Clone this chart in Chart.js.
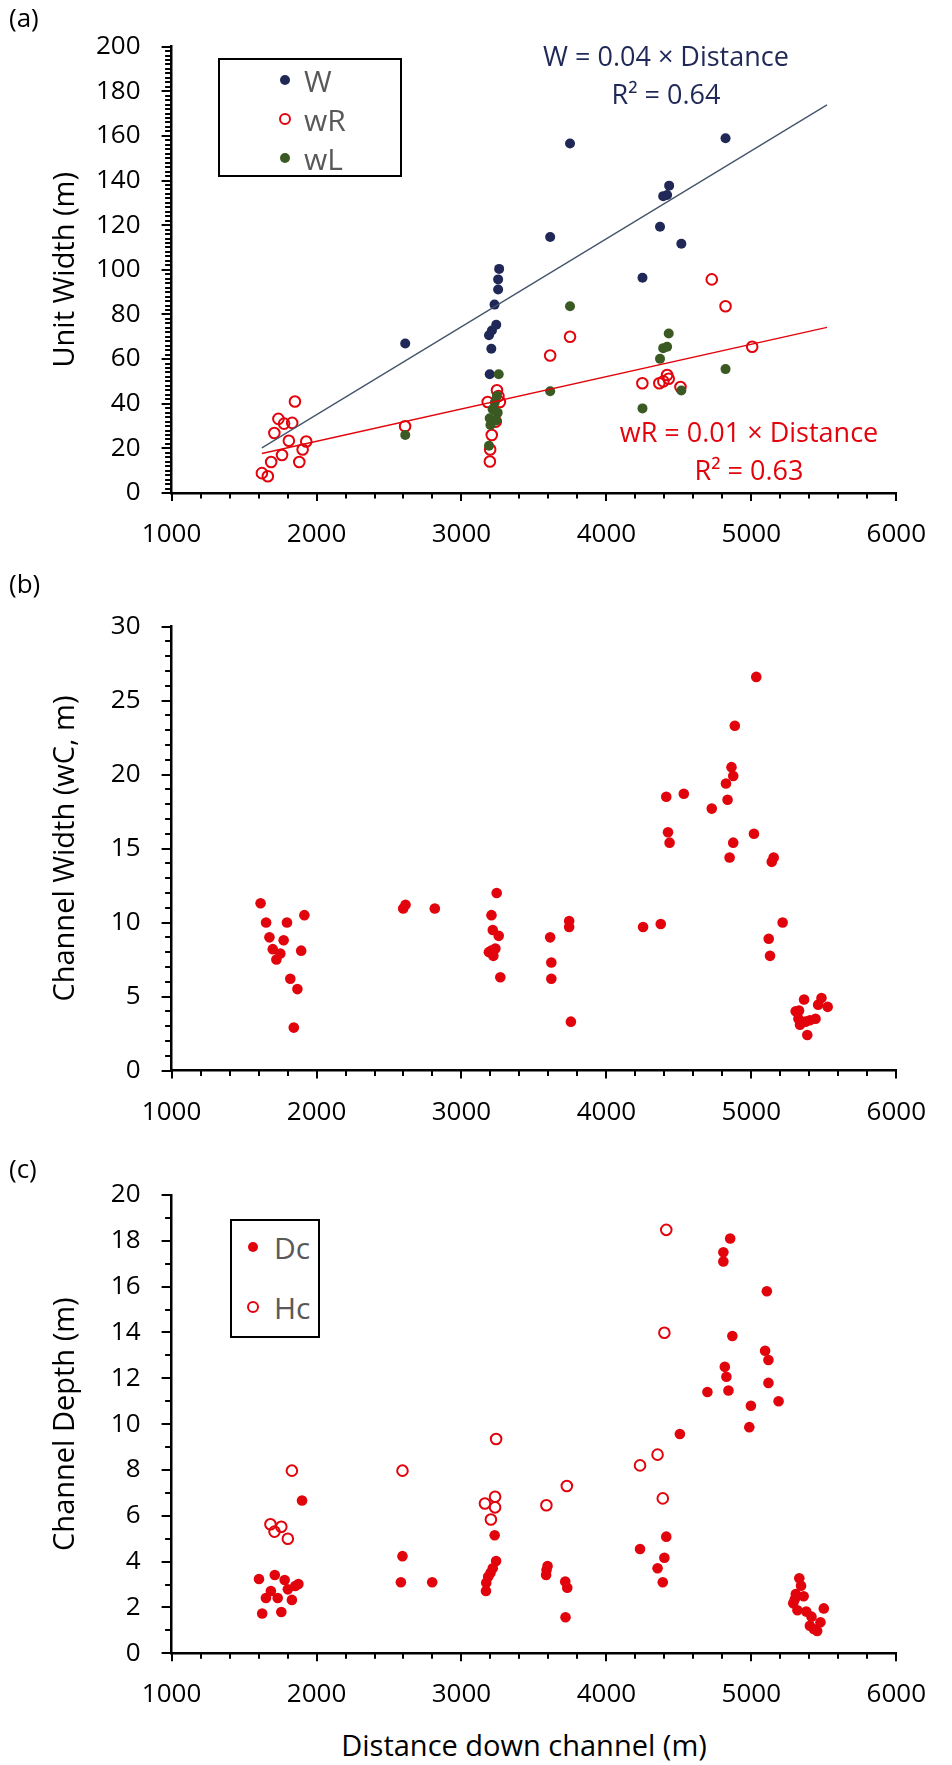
<!DOCTYPE html>
<html>
<head>
<meta charset="utf-8">
<script src="https://cdn.jsdelivr.net/npm/chart.js@4.4.0/dist/chart.umd.min.js"></script>
<style>
  body { margin: 0; background: #fff; }
  #page { position: relative; width: 952px; height: 1765px; font-family: 'Open Sans', sans-serif; overflow: hidden; }
  #page canvas { position: absolute; left: 0; }
  .tag { position: absolute; font-size: 26px; line-height: 30px; color: #000; }
  .note { position: absolute; width: 420px; text-align: center; font-size: 27px; line-height: 38px; white-space: nowrap; }
  .legend { position: absolute; border: 2px solid #000; box-sizing: border-box; background: #fff; }
  .row { position: absolute; height: 40px; display: flex; align-items: center; font-size: 30px; color: #595959; }
  .dot { position: absolute; border-radius: 50%; box-sizing: border-box; }
  .xtitle { position: absolute; width: 500px; text-align: center; font-size: 29px; line-height: 36px; color: #000; }
</style>
</head>
<body>
<div id="page">
  <canvas id="chartA" width="952" height="580" style="top:0;width:952px;height:580px"></canvas>
  <canvas id="chartB" width="952" height="560" style="top:580px;width:952px;height:560px"></canvas>
  <canvas id="chartC" width="952" height="580" style="top:1140px;width:952px;height:580px"></canvas>

  <div class="tag" style="left:9px;top:2px">(a)</div>
  <div class="tag" style="left:9px;top:568px">(b)</div>
  <div class="tag" style="left:9px;top:1153px">(c)</div>

  <div class="note" style="left:456px;top:37px;color:#1F2856">W = 0.04 × Distance<br>R² = 0.64</div>
  <div class="note" style="left:539px;top:413px;color:#E2040C">wR = 0.01 × Distance<br>R² = 0.63</div>

  <div class="legend" style="left:218px;top:58px;width:184px;height:119px">
    <div class="dot" style="left:60px;top:15px;width:10px;height:10px;background:#1F2856"></div>
    <div class="row" style="left:84px;top:0px">W</div>
    <div class="dot" style="left:59px;top:53px;width:12px;height:12px;border:2px solid #E2040C"></div>
    <div class="row" style="left:84px;top:39px">wR</div>
    <div class="dot" style="left:60px;top:93px;width:10px;height:10px;background:#3B5A23"></div>
    <div class="row" style="left:84px;top:78px">wL</div>
  </div>

  <div class="legend" style="left:230px;top:1219px;width:90px;height:119px">
    <div class="dot" style="left:16px;top:21px;width:10px;height:10px;background:#E2040C"></div>
    <div class="row" style="left:42px;top:6px">Dc</div>
    <div class="dot" style="left:15px;top:80px;width:12px;height:12px;border:2px solid #E2040C"></div>
    <div class="row" style="left:42px;top:66px">Hc</div>
  </div>

  <div class="xtitle" style="left:274px;top:1727px">Distance down channel (m)</div>
</div>

<script>
// axis ticks
const distTicks = [1000, 2000, 3000, 4000, 5000, 6000];
const unitWidthTicks = [0, 20, 40, 60, 80, 100, 120, 140, 160, 180, 200];
const chanWidthTicks = [0, 5, 10, 15, 20, 25, 30];
const chanDepthTicks = [0, 2, 4, 6, 8, 10, 12, 14, 16, 18, 20];

// (a) unit widths
const wDist = [2612, 3190, 3195, 3206, 3210, 3228, 3240, 3253, 3253, 3260, 3612, 3749, 4249, 4370, 4392, 4419, 4433, 4517, 4822];
const wVal  = [67.0, 70.7, 53.2, 64.6, 72.8, 84.4, 75.4, 91.2, 95.7, 100.4, 114.7, 156.6, 96.4, 119.3, 133.0, 133.5, 137.7, 111.7, 158.9];

const wrDist = [1623, 1664, 1687, 1709, 1737, 1762, 1776, 1809, 1832, 1851, 1881, 1904, 1929, 2611,
                3181, 3196, 3198, 3209, 3237, 3245, 3255, 3265, 3612, 3749,
                4248, 4365, 4393, 4419, 4430, 4511, 4727, 4822, 5006];
const wrVal  = [8.9, 7.5, 13.9, 26.9, 33.2, 17.0, 31.1, 23.4, 31.4, 41.0, 13.9, 19.5, 23.1, 29.9,
                40.8, 14.1, 19.5, 26.0, 32.0, 46.0, 43.4, 40.8, 61.6, 70.0,
                49.2, 49.2, 50.0, 52.9, 51.2, 47.5, 95.7, 83.7, 65.5];

const wlDist = [2612, 3257, 3245, 3230, 3215, 3250, 3195, 3240, 3200, 3190, 3612, 3749, 4249, 4370, 4392, 4419, 4430, 4517, 4822];
const wlVal  = [26.0, 53.2, 43.5, 40.5, 37.5, 36.0, 33.5, 32.5, 30.5, 21.2, 45.6, 83.7, 37.9, 60.1, 64.9, 65.5, 71.5, 45.9, 55.5];

// trendline ends
const trendDist = [1623, 5522];
const trendW    = [20.2, 173.9];
const trendWR   = [17.7, 74.2];

// (b) channel width
const wcDist = [1614, 1652, 1675, 1698, 1723, 1750, 1773, 1796, 1819, 1843, 1868, 1894, 1916,
                2598, 2614, 2816, 3189, 3205, 3207, 3216, 3220, 3234, 3243, 3257, 3268,
                3612, 3620, 3620, 3743, 3743, 3755, 4253, 4375,
                4413, 4425, 4436, 4534, 4727, 4825, 4836, 4850, 4863, 4875, 4875, 4886, 5018, 5034,
                5120, 5129, 5141, 5154, 5216,
                5306, 5325, 5329, 5336, 5364, 5374, 5386, 5404, 5443, 5461, 5484, 5527];
const wcVal  = [11.3, 10.0, 9.0, 8.2, 7.5, 7.9, 8.8, 10.0, 6.2, 2.9, 5.5, 8.1, 10.5,
                10.95, 11.2, 10.95, 8.0, 8.1, 10.5, 9.5, 7.75, 8.25, 12.0, 9.1, 6.3,
                9.0, 7.3, 6.2, 10.1, 9.7, 3.3, 9.7, 9.9,
                18.5, 16.1, 15.4, 18.7, 17.7, 19.4, 18.3, 14.4, 20.5, 19.9, 15.4, 23.3, 16.0, 26.6,
                8.9, 7.75, 14.1, 14.4, 10.0,
                4.0, 3.5, 4.05, 3.1, 4.8, 3.3, 2.4, 3.4, 3.5, 4.45, 4.9, 4.3];

// (c) channel depth
const dcDist = [1603, 1625, 1651, 1685, 1712, 1732, 1757, 1780, 1802, 1830, 1853, 1875, 1900,
                2582, 2593, 2798, 3169, 3171, 3184, 3200, 3216, 3239, 3229,
                3584, 3587, 3594, 3716, 3730, 3718,
                4232, 4353, 4389, 4400, 4413, 4507, 4697, 4807, 4807, 4817, 4828, 4842, 4854, 4869,
                4986, 4997, 5095, 5107, 5118, 5118, 5188,
                5289, 5300, 5307, 5318, 5331, 5343, 5361, 5379, 5404, 5415, 5431, 5454, 5477, 5500];
const dcVal  = [3.24, 1.74, 2.41, 2.72, 3.42, 2.41, 1.8, 3.2, 2.79, 2.33, 2.94, 3.02, 6.67,
                3.1, 4.24, 3.1, 2.72, 3.08, 3.34, 3.5, 3.71, 4.03, 5.15,
                3.42, 3.63, 3.81, 3.13, 2.86, 1.57,
                4.55, 3.71, 3.1, 4.17, 5.09, 9.57, 11.4, 17.1, 17.5, 12.5, 12.07, 11.47, 18.1, 13.85,
                9.87, 10.8, 13.2, 15.8, 12.8, 11.8, 11.0,
                2.18, 2.36, 2.59, 1.88, 3.27, 2.95, 2.49, 1.82, 1.2, 1.6, 1.06, 0.97, 1.35, 1.96];

const hcDist = [1682, 1710, 1757, 1802, 1830, 2593, 3162, 3203, 3232, 3232, 3239, 3586, 3727, 4232, 4353, 4389, 4400, 4413];
const hcVal  = [5.63, 5.31, 5.52, 5.0, 7.97, 7.97, 6.54, 5.84, 6.37, 6.83, 9.35, 6.46, 7.3, 8.2, 8.67, 6.76, 13.99, 18.48];

const NAVY = '#1F2856';
const RED = '#E2040C';
const GREEN = '#3B5A23';
const SLATE = '#44546A';
const FONT = "'Open Sans', sans-serif";

const pts = (xs, ys) => xs.map((x, i) => ({ x, y: ys[i] }));

// Excel style outside ticks, long at majors, short at minors
const tickMarks = {
  id: 'tickMarks',
  afterDraw(chart, args, opts) {
    const { ctx, chartArea, scales: { x, y } } = chart;
    ctx.save();
    ctx.strokeStyle = '#000';
    ctx.lineWidth = 2;
    ctx.beginPath();
    const xn = Math.round((x.max - x.min) / opts.xMinor);
    for (let i = 0; i <= xn; i++) {
      const px = Math.round(x.getPixelForValue(x.min + i * opts.xMinor));
      const len = i % opts.xEvery === 0 ? 8 : 5.5;
      ctx.moveTo(px, chartArea.bottom);
      ctx.lineTo(px, chartArea.bottom + len);
    }
    const yn = Math.round((y.max - y.min) / opts.yMinor);
    for (let i = 0; i <= yn; i++) {
      const py = Math.round(y.getPixelForValue(y.min + i * opts.yMinor));
      const len = i % opts.yEvery === 0 ? 10 : 6.5;
      ctx.moveTo(chartArea.left, py);
      ctx.lineTo(chartArea.left - len, py);
    }
    ctx.stroke();
    ctx.restore();
  }
};

function makeChart(id, datasets, cfg) {
  return new Chart(document.getElementById(id), {
    type: 'scatter',
    data: { datasets },
    plugins: [tickMarks],
    options: {
      responsive: false,
      animation: false,
      devicePixelRatio: 1,
      events: [],
      layout: { padding: { left: 0, right: 47, top: cfg.top, bottom: cfg.bottom } },
      plugins: {
        legend: { display: false },
        tooltip: { enabled: false },
        tickMarks: cfg.marks
      },
      scales: {
        x: {
          type: 'linear',
          min: 1000,
          max: 6000,
          afterBuildTicks: s => { s.ticks = distTicks.map(v => ({ value: v })); },
          afterFit: s => { s.height = 60; },
          grid: { display: false, drawTicks: false },
          border: { display: true, color: '#000', width: 2.5 },
          ticks: { padding: 26, color: '#000', font: { family: FONT, size: 26 }, callback: v => String(v) }
        },
        y: {
          type: 'linear',
          min: cfg.yTicks[0],
          max: cfg.yTicks[cfg.yTicks.length - 1],
          afterBuildTicks: s => { s.ticks = cfg.yTicks.map(v => ({ value: v })); },
          afterFit: s => { s.width = 171.6; },
          grid: { display: false, drawTicks: false },
          border: { display: true, color: '#000', width: 2.5 },
          ticks: { padding: 31, color: '#000', font: { family: FONT, size: 26 }, callback: v => String(v) },
          title: {
            display: true,
            text: cfg.yTitle,
            color: '#000',
            font: { family: FONT, size: 29 },
            padding: { top: 48, bottom: 0 }
          }
        }
      }
    }
  });
}

makeChart('chartA', [
  { label: 'W', data: pts(wDist, wVal), pointRadius: 5, pointBorderWidth: 0,
    pointBackgroundColor: NAVY, pointBorderColor: NAVY, order: 3 },
  { label: 'wR', data: pts(wrDist, wrVal), pointRadius: 5.3, pointBorderWidth: 2,
    pointBackgroundColor: 'rgba(0,0,0,0)', pointBorderColor: RED, order: 2 },
  { label: 'wL', data: pts(wlDist, wlVal), pointRadius: 5, pointBorderWidth: 0,
    pointBackgroundColor: GREEN, pointBorderColor: GREEN, order: 1 },
  { label: 'W trend', data: pts(trendDist, trendW), showLine: true, pointRadius: 0,
    borderColor: SLATE, borderWidth: 1.3, order: 0 },
  { label: 'wR trend', data: pts(trendDist, trendWR), showLine: true, pointRadius: 0,
    borderColor: RED, borderWidth: 1.3, order: 0 }
], {
  top: 34, bottom: 27, yTicks: unitWidthTicks, yTitle: 'Unit Width (m)',
  marks: { xMinor: 200, xEvery: 5, yMinor: 2, yEvery: 10 }
});

makeChart('chartB', [
  { label: 'wC', data: pts(wcDist, wcVal), pointRadius: 5.3, pointBorderWidth: 0,
    pointBackgroundColor: RED, pointBorderColor: RED }
], {
  top: 30.6, bottom: 9.5, yTicks: chanWidthTicks, yTitle: 'Channel Width (wC, m)',
  marks: { xMinor: 200, xEvery: 5, yMinor: 1, yEvery: 5 }
});

makeChart('chartC', [
  { label: 'Dc', data: pts(dcDist, dcVal), pointRadius: 5.3, pointBorderWidth: 0,
    pointBackgroundColor: RED, pointBorderColor: RED, order: 2 },
  { label: 'Hc', data: pts(hcDist, hcVal), pointRadius: 5.3, pointBorderWidth: 2,
    pointBackgroundColor: 'rgba(0,0,0,0)', pointBorderColor: RED, order: 1 }
], {
  top: 55, bottom: 6.7, yTicks: chanDepthTicks, yTitle: 'Channel Depth (m)',
  marks: { xMinor: 200, xEvery: 5, yMinor: 1, yEvery: 2 }
});
</script>
</body>
</html>
